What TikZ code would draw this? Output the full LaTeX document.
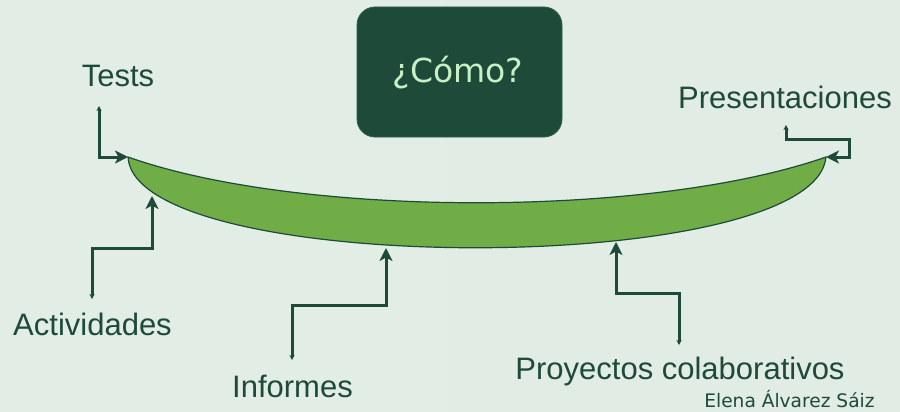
\documentclass[tikz,border=0pt]{standalone}
\usepackage{fontspec}
\setmainfont{Liberation Sans}
\newfontfamily\dejavu{DejaVu Sans}
\usetikzlibrary{arrows.meta}
\definecolor{dkgreen}{HTML}{1E4A3A}
\definecolor{boxedge}{HTML}{2E5E4A}
\definecolor{leaf}{HTML}{70AD47}
\definecolor{boxtext}{HTML}{C8F0C4}
\definecolor{bgA}{HTML}{E2EDE5}
\definecolor{bgB}{HTML}{CCE1E1}
\definecolor{bgC}{HTML}{E1ECE4}
\begin{document}
\begin{tikzpicture}[x=1pt,y=-1pt,
  lbl/.style={text=dkgreen, font=\fontsize{31}{36}\selectfont, anchor=base, inner sep=0pt},
  conn/.style={draw=dkgreen, line width=3pt,
    {Stealth[length=5pt,width=5pt]}-{Stealth[length=13pt,width=13pt,inset=3.5pt]}},
  qbox/.style={fill=dkgreen, draw=boxedge, line width=0.8pt, rounded corners=18pt,
    minimum width=205pt, minimum height=130pt, inner sep=0pt},
  leafshape/.style={fill=leaf, draw=dkgreen, line width=1.2pt}
]
\useasboundingbox (0,0) rectangle (900,412);
\shade[left color=bgA, middle color=bgB, right color=bgC] (0,0) rectangle (900,412);

% question box
\node[qbox] (box) at (459.5,72) {};
\node[text=boxtext, font=\dejavu\fontsize{33}{38}\selectfont, anchor=base, inner sep=0pt] (como) at (458,83) {¿Cómo?};

% leaf shape
\coordinate (L) at (128,157);
\coordinate (R) at (826,157);
\draw[leafshape] (L) .. controls (300,218) and (652,218) .. (R)
   .. controls (815,278) and (135,278) .. (L) -- cycle;

% tip points on the shape
\coordinate (a2) at (152,196);
\coordinate (i2) at (386,248);
\coordinate (p2) at (616,242);

% labels
\node[lbl] (tests) at (118,87) {Tests};
\node[lbl] (pres) at (785,109) {Presentaciones};
\node[lbl] (activ) at (92.5,335) {Actividades};
\node[lbl] (inf) at (292.5,397) {Informes};
\node[lbl] (proy) at (680,379) {Proyectos colaborativos};
\node[text=dkgreen, font=\dejavu\fontsize{18.6}{22}\selectfont, anchor=base, inner sep=0pt] (author) at (789.5,407) {Elena Álvarez Sáiz};

% connector free ends
\coordinate (t1) at (99,106);
\coordinate (r1) at (786,125);
\coordinate (rk) at (849,139);
\coordinate (a1) at (92,299);
\coordinate (i1) at (292,360);
\coordinate (p1) at (679,345);

\draw[conn] (t1) |- (L);
\draw[conn] (r1) |- (rk) |- (R);
\draw[conn] (a1) -- ++(0,-51) -| (a2);
\draw[conn] (i1) -- ++(0,-55) -| (i2);
\draw[conn] (p1) -- ++(0,-52) -| (p2);
\end{tikzpicture}
\end{document}
